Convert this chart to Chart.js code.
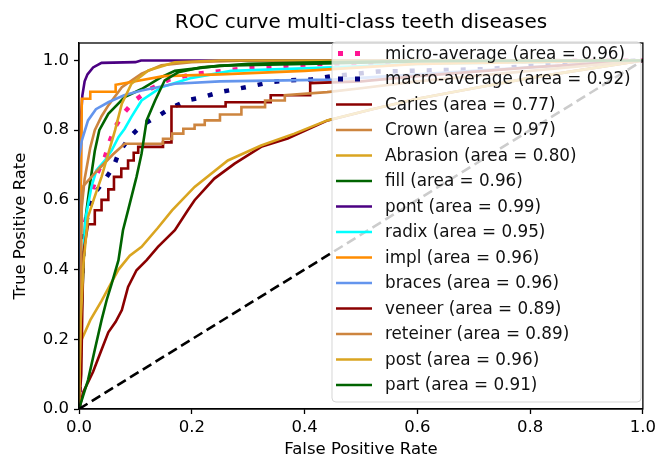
<!DOCTYPE html>
<html>
<head>
<meta charset="utf-8">
<script src="https://cdn.jsdelivr.net/npm/chart.js@4.4.1/dist/chart.umd.min.js"></script>
<style>
  html, body { margin: 0; padding: 0; background: #fff; }
  canvas { display: block; }
</style>
</head>
<body>
<canvas id="chart" width="660" height="461"></canvas>
<script>
// ROC curves, multi-class teeth diseases.

const xTicks = [0, 0.2, 0.4, 0.6, 0.8, 1.0];
const yTicks = [0, 0.2, 0.4, 0.6, 0.8, 1.0];

const microFpr = [0, 0.002, 0.01, 0.022, 0.031, 0.046, 0.055, 0.064, 0.08, 0.099, 0.126, 0.16, 0.2, 0.3, 0.42, 0.6, 0.8, 1];
const microTpr = [0, 0.4, 0.53, 0.618, 0.67, 0.723, 0.77, 0.809, 0.85, 0.885, 0.918, 0.945, 0.96, 0.978, 0.99, 0.995, 0.998, 1];

const macroFpr = [0, 0.003, 0.01, 0.025, 0.043, 0.061, 0.07, 0.09, 0.111, 0.138, 0.161, 0.191, 0.22, 0.25, 0.279, 0.311, 0.341, 0.373, 0.41, 0.45, 0.53, 0.72, 0.85, 1];
const macroTpr = [0, 0.3, 0.52, 0.613, 0.651, 0.694, 0.733, 0.78, 0.814, 0.838, 0.862, 0.885, 0.895, 0.909, 0.918, 0.928, 0.938, 0.943, 0.945, 0.955, 0.968, 0.975, 0.99, 1];

const cariesFpr = [0, 0.008, 0.025, 0.04, 0.052, 0.065, 0.076, 0.087, 0.102, 0.12, 0.14, 0.17, 0.193, 0.205, 0.24, 0.276, 0.323, 0.37, 0.441, 0.52, 0.6, 0.7, 0.8, 0.9, 1];
const cariesTpr = [0, 0.05, 0.107, 0.17, 0.22, 0.25, 0.284, 0.35, 0.398, 0.427, 0.465, 0.513, 0.57, 0.599, 0.661, 0.704, 0.752, 0.776, 0.828, 0.86, 0.89, 0.92, 0.95, 0.975, 1];

const crownFpr = [0, 0.002, 0.005, 0.01, 0.02, 0.028, 0.04, 0.052, 0.076, 0.111, 0.146, 0.2, 0.3, 1];
const crownTpr = [0, 0.45, 0.58, 0.66, 0.75, 0.8, 0.84, 0.871, 0.923, 0.962, 0.986, 0.995, 1, 1];

const abrasionFpr = [0, 0.003, 0.005, 0.02, 0.04, 0.07, 0.09, 0.111, 0.14, 0.165, 0.205, 0.264, 0.323, 0.382, 0.44, 0.52, 0.6, 0.7, 0.8, 0.9, 1];
const abrasionTpr = [0, 0.18, 0.2, 0.255, 0.31, 0.4, 0.44, 0.465, 0.52, 0.57, 0.637, 0.713, 0.756, 0.79, 0.828, 0.86, 0.89, 0.92, 0.95, 0.975, 1];

const fillFpr = [0, 0.003, 0.008, 0.011, 0.019, 0.028, 0.036, 0.052, 0.081, 0.111, 0.146, 0.17, 0.25, 0.4, 0.6, 1];
const fillTpr = [0, 0.2, 0.42, 0.54, 0.64, 0.74, 0.8, 0.847, 0.895, 0.918, 0.952, 0.97, 0.985, 0.99, 0.997, 1];

const pontFpr = [0, 0.004, 0.006, 0.01, 0.015, 0.025, 0.04, 0.1, 0.11, 1];
const pontTpr = [0, 0.85, 0.9, 0.94, 0.96, 0.98, 0.993, 0.995, 1, 1];

const radixFpr = [0, 0.003, 0.008, 0.012, 0.022, 0.031, 0.046, 0.058, 0.07, 0.081, 0.093, 0.111, 0.146, 0.2, 0.27, 0.45, 0.6, 1];
const radixTpr = [0, 0.3, 0.45, 0.55, 0.637, 0.685, 0.713, 0.742, 0.78, 0.804, 0.838, 0.885, 0.923, 0.95, 0.97, 0.98, 0.99, 1];

const implFpr = [0, 0.003, 0.005, 0.02, 0.02, 0.065, 0.065, 0.1, 0.15, 0.25, 0.4, 0.6, 1];
const implTpr = [0, 0.6, 0.89, 0.89, 0.91, 0.91, 0.93, 0.94, 0.955, 0.96, 0.97, 0.99, 1];

const bracesFpr = [0, 0, 0.005, 0.016, 0.03, 0.052, 0.08, 0.111, 0.17, 0.25, 0.45, 0.6, 0.8, 1];
const bracesTpr = [0, 0.72, 0.77, 0.828, 0.86, 0.88, 0.9, 0.914, 0.933, 0.94, 0.945, 0.96, 0.98, 1];

const veneerFpr = [0, 0.004, 0.006, 0.008, 0.016, 0.028, 0.028, 0.04, 0.04, 0.052, 0.052, 0.062, 0.062, 0.075, 0.075, 0.087, 0.087, 0.097, 0.097, 0.105, 0.105, 0.149, 0.149, 0.164, 0.164, 0.26, 0.26, 0.34, 0.34, 0.41, 0.41, 0.5, 0.6, 0.8, 1];
const veneerTpr = [0, 0.1, 0.3, 0.45, 0.53, 0.53, 0.57, 0.57, 0.6, 0.6, 0.63, 0.63, 0.666, 0.666, 0.69, 0.69, 0.713, 0.713, 0.735, 0.735, 0.752, 0.752, 0.765, 0.765, 0.868, 0.868, 0.88, 0.88, 0.9, 0.9, 0.935, 0.94, 0.955, 0.98, 1];

const reteinerFpr = [0, 0.003, 0.005, 0.008, 0.03, 0.06, 0.081, 0.149, 0.149, 0.165, 0.165, 0.185, 0.185, 0.205, 0.205, 0.223, 0.223, 0.25, 0.25, 0.288, 0.288, 0.33, 0.33, 0.365, 0.365, 0.44, 0.5, 0.6, 0.8, 1];
const reteinerTpr = [0, 0.3, 0.6, 0.64, 0.68, 0.73, 0.761, 0.761, 0.775, 0.775, 0.79, 0.79, 0.804, 0.804, 0.815, 0.815, 0.828, 0.828, 0.845, 0.845, 0.866, 0.866, 0.885, 0.885, 0.9, 0.909, 0.92, 0.94, 0.97, 1];

const postFpr = [0, 0.003, 0.008, 0.016, 0.028, 0.04, 0.052, 0.064, 0.076, 0.093, 0.123, 0.17, 0.25, 1];
const postTpr = [0, 0.25, 0.42, 0.551, 0.61, 0.666, 0.733, 0.8, 0.876, 0.933, 0.971, 0.995, 1, 1];

const partFpr = [0, 0.005, 0.016, 0.028, 0.04, 0.049, 0.058, 0.07, 0.078, 0.087, 0.102, 0.111, 0.12, 0.135, 0.152, 0.176, 0.217, 0.3, 0.45, 0.6, 1];
const partTpr = [0, 0.026, 0.083, 0.17, 0.255, 0.312, 0.36, 0.427, 0.513, 0.57, 0.666, 0.733, 0.828, 0.885, 0.943, 0.966, 0.98, 0.99, 0.995, 0.998, 1];

const chanceFpr = [0, 1];
const chanceTpr = [0, 1];

// drawing order follows the original plot: first entry at the bottom
const curves = [
  { label: "micro-average (area = 0.96)", fpr: microFpr,    tpr: microTpr,    color: "#FF1493", dotted: true },
  { label: "macro-average (area = 0.92)", fpr: macroFpr,    tpr: macroTpr,    color: "#000080", dotted: true },
  { label: "Caries (area = 0.77)",        fpr: cariesFpr,   tpr: cariesTpr,   color: "#8B0000" },
  { label: "Crown (area = 0.97)",         fpr: crownFpr,    tpr: crownTpr,    color: "#CD853F" },
  { label: "Abrasion (area = 0.80)",      fpr: abrasionFpr, tpr: abrasionTpr, color: "#DAA520" },
  { label: "fill (area = 0.96)",          fpr: fillFpr,     tpr: fillTpr,     color: "#006400" },
  { label: "pont (area = 0.99)",          fpr: pontFpr,     tpr: pontTpr,     color: "#4B0082" },
  { label: "radix (area = 0.95)",         fpr: radixFpr,    tpr: radixTpr,    color: "#00FFFF" },
  { label: "impl (area = 0.96)",          fpr: implFpr,     tpr: implTpr,     color: "#FF8C00" },
  { label: "braces (area = 0.96)",        fpr: bracesFpr,   tpr: bracesTpr,   color: "#6495ED" },
  { label: "veneer (area = 0.89)",        fpr: veneerFpr,   tpr: veneerTpr,   color: "#8B0000" },
  { label: "reteiner (area = 0.89)",      fpr: reteinerFpr, tpr: reteinerTpr, color: "#CD853F" },
  { label: "post (area = 0.96)",          fpr: postFpr,     tpr: postTpr,     color: "#DAA520" },
  { label: "part (area = 0.91)",          fpr: partFpr,     tpr: partTpr,     color: "#006400" },
];

const FONT = "'DejaVu Sans', sans-serif";

function toPoints(xs, ys) {
  return xs.map((x, i) => ({ x, y: ys[i] }));
}

const datasets = curves.map(c => ({
  label: c.label,
  data: toPoints(c.fpr, c.tpr),
  borderColor: c.color,
  borderWidth: c.dotted ? 4.5 : 2.6,
  borderDash: c.dotted ? [5, 12] : [],
  borderCapStyle: "butt",
  showLine: true,
  pointRadius: 0,
  fill: false,
}));
datasets.push({
  label: "chance",
  data: toPoints(chanceFpr, chanceTpr),
  borderColor: "#000",
  borderWidth: 2.6,
  borderDash: [10, 5],
  borderCapStyle: "butt",
  showLine: true,
  pointRadius: 0,
  fill: false,
});
// Chart.js paints dataset 0 last (on top) -> reverse so the chance line ends on top
datasets.reverse();

// spines, title, axis labels and the in-plot legend
const decorations = {
  id: "decorations",
  afterDraw(chart) {
    const ctx = chart.ctx;
    const a = chart.chartArea;
    ctx.save();

    ctx.strokeStyle = "#000";
    ctx.lineWidth = 1.3;
    ctx.strokeRect(a.left, a.top, a.right - a.left, a.bottom - a.top);

    ctx.fillStyle = "#000";
    ctx.textBaseline = "middle";
    ctx.textAlign = "center";
    ctx.font = "20px " + FONT;
    ctx.fillText("ROC curve multi-class teeth diseases", (a.left + a.right) / 2, 23);

    ctx.font = "16.5px " + FONT;
    ctx.fillText("False Positive Rate", (a.left + a.right) / 2, 450);
    ctx.save();
    ctx.translate(21, (a.top + a.bottom) / 2);
    ctx.rotate(-Math.PI / 2);
    ctx.fillText("True Positive Rate", 0, 0);
    ctx.restore();

    // legend box (semi transparent, like matplotlib's framealpha 0.8)
    const L = 332, T = 42, R = 641, B = 402, r = 4;
    ctx.beginPath();
    ctx.moveTo(L + r, T);
    ctx.arcTo(R, T, R, B, r);
    ctx.arcTo(R, B, L, B, r);
    ctx.arcTo(L, B, L, T, r);
    ctx.arcTo(L, T, R, T, r);
    ctx.closePath();
    ctx.fillStyle = "rgba(255,255,255,0.8)";
    ctx.fill();
    ctx.strokeStyle = "rgba(204,204,204,0.8)";
    ctx.lineWidth = 1;
    ctx.stroke();

    ctx.textAlign = "left";
    ctx.font = "16.8px " + FONT;
    curves.forEach((c, i) => {
      const y = 53.5 + i * 25.5;
      if (c.dotted) {
        ctx.fillStyle = c.color;
        ctx.fillRect(338, y - 2.5, 5, 5);
        ctx.fillRect(355, y - 2.5, 5, 5);
      } else {
        ctx.strokeStyle = c.color;
        ctx.lineWidth = 2.6;
        ctx.beginPath();
        ctx.moveTo(336, y);
        ctx.lineTo(372, y);
        ctx.stroke();
      }
      ctx.fillStyle = "#111";
      ctx.fillText(c.label, 385, y + 1);
    });
    ctx.restore();
  },
};

const ctx = document.getElementById("chart").getContext("2d");
new Chart(ctx, {
  type: "scatter",
  data: { datasets },
  options: {
    responsive: false,
    animation: false,
    devicePixelRatio: 1,
    layout: { padding: { left: 0, right: 16, top: 43, bottom: 0 } },
    plugins: {
      legend: { display: false },
      title: { display: false },
      tooltip: { enabled: false },
    },
    scales: {
      x: {
        type: "linear",
        min: 0,
        max: 1,
        afterFit: s => { s.height = 52; },
        afterBuildTicks: s => { s.ticks = xTicks.map(v => ({ value: v })); },
        ticks: { callback: v => v.toFixed(1), color: "#000", font: { family: FONT, size: 16.5 }, padding: 4, maxRotation: 0 },
        grid: { drawOnChartArea: false, tickLength: 5, tickColor: "#000", tickWidth: 1.3 },
        border: { color: "#000", width: 1.3 },
      },
      y: {
        type: "linear",
        min: 0,
        max: 1.05,
        afterFit: s => { s.width = 79; },
        afterBuildTicks: s => { s.ticks = yTicks.map(v => ({ value: v })); },
        ticks: { callback: v => v.toFixed(1), color: "#000", font: { family: FONT, size: 16.5 }, padding: 5 },
        grid: { drawOnChartArea: false, tickLength: 5, tickColor: "#000", tickWidth: 1.3 },
        border: { color: "#000", width: 1.3 },
      },
    },
  },
  plugins: [decorations],
});
</script>
</body>
</html>
